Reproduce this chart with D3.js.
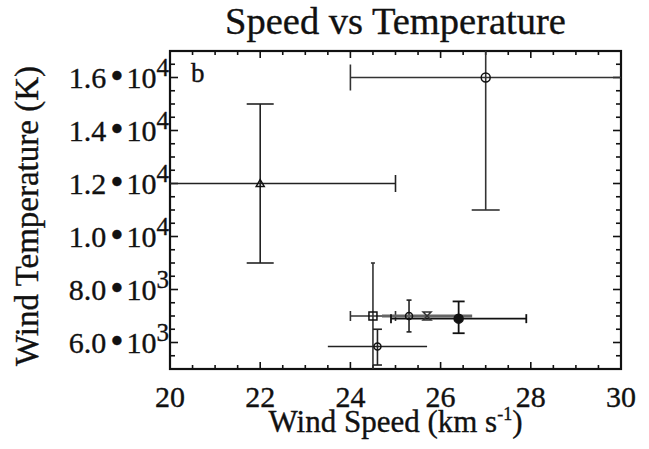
<!DOCTYPE html>
<html>
<head>
<meta charset="utf-8">
<script src="https://cdn.jsdelivr.net/npm/d3@7/dist/d3.min.js"></script>
<style>
  html, body { margin: 0; padding: 0; background: #fff; }
  svg { display: block; }
  text { font-family: "Liberation Serif", "Times New Roman", serif; fill: #111; stroke: #111; stroke-width: 0.35px; }
</style>
</head>
<body>
<script>
// ---- data ----
const speeds  = [22,    27,    24.5,  25.3,  25.7,  26.4,  24.6];
const temps   = [12000, 16000, 7000,  7000,  7000,  6900,  5850];
const speedLo = [19,    24,    24.0,  25.3,  24.7,  24.9,  23.5];
const speedHi = [25,    31,    25.0,  25.3,  26.7,  27.9,  25.7];
const tempLo  = [9000,  11000, 4500,  6400,  7000,  6350,  5150];
const tempHi  = [15000, 17500, 9000,  7600,  7000,  7550,  6500];
const symbols = ["triangle", "circle", "square", "circle", "hourglass", "filled", "circle"];
const xTicks  = [20, 22, 24, 26, 28, 30];
const yTicks  = [6000, 8000, 10000, 12000, 14000, 16000];

// ---- styles (per point) ----
const capX = [17, 26, 10, 0, 0, 9, 0];   // vertical cap height on x error ends
const capY = [27, 28, 4, 5, 0, 12, 9];  // horizontal cap width on y error ends
const barColor = ["#222", "#333", "#333", "#222", "#666", "#111", "#222"];
const barWidth = [1.6, 1.6, 1.6, 1.6, 3.2, 1.8, 1.6];

const W = 649, H = 449;
const m = {left: 170, right: 621, top: 51, bottom: 369};

const svg = d3.select("body").append("svg").attr("width", W).attr("height", H);

const x = d3.scaleLinear().domain([20, 30]).range([m.left, m.right]);
const y = d3.scaleLinear().domain([5000, 17000]).range([m.bottom, m.top]);

svg.append("defs").append("clipPath").attr("id", "clip")
  .append("rect").attr("x", m.left).attr("y", m.top)
  .attr("width", m.right - m.left).attr("height", m.bottom - m.top);

// ticks (inward on all sides)
const tg = svg.append("g").attr("stroke", "#111").attr("stroke-width", 1.6);
const xMinor = d3.range(20, 30.001, 0.5);
const yMinor = d3.range(5000, 17000.1, 500);
xMinor.forEach(v => {
  const major = Math.abs(v % 2) < 1e-6;
  const len = major ? 7 : 4;
  tg.append("line").attr("x1", x(v)).attr("x2", x(v)).attr("y1", m.bottom).attr("y2", m.bottom - len);
  tg.append("line").attr("x1", x(v)).attr("x2", x(v)).attr("y1", m.top).attr("y2", m.top + len);
});
yMinor.forEach(v => {
  const major = Math.abs(v % 2000) < 1e-6;
  const len = major ? 8 : 5;
  tg.append("line").attr("y1", y(v)).attr("y2", y(v)).attr("x1", m.left).attr("x2", m.left + len);
  tg.append("line").attr("y1", y(v)).attr("y2", y(v)).attr("x1", m.right).attr("x2", m.right - len);
});

// frame
svg.append("rect").attr("x", m.left).attr("y", m.top)
  .attr("width", m.right - m.left).attr("height", m.bottom - m.top)
  .attr("fill", "none").attr("stroke", "#111").attr("stroke-width", 2.2);

// x tick labels
svg.append("g").selectAll("text").data(xTicks).join("text")
  .attr("x", d => x(d)).attr("y", 407)
  .attr("text-anchor", "middle").attr("font-size", 30)
  .text(d => d);

// y tick labels
const yl = svg.append("g").selectAll("text").data(yTicks).join("text")
  .attr("x", 169).attr("y", d => y(d) + 10)
  .attr("text-anchor", "end").attr("font-size", 30);
yl.each(function(d) {
  const e = Math.floor(Math.log10(d));
  const mant = (d / Math.pow(10, e)).toFixed(1);
  const t = d3.select(this);
  t.append("tspan").text(mant);
  t.append("tspan").attr("dx", 4).attr("font-size", 38).attr("dy", 1).text("•");
  t.append("tspan").attr("dx", 3).attr("dy", -1).text("10");
  t.append("tspan").attr("dy", -12).attr("font-size", 25).text(e);
});

// titles
svg.append("text").attr("x", (m.left + m.right) / 2).attr("y", 34)
  .attr("text-anchor", "middle").attr("font-size", 38.5).text("Speed vs Temperature");

const xt = svg.append("text").attr("x", (m.left + m.right) / 2).attr("y", 432)
  .attr("text-anchor", "middle").attr("font-size", 31);
xt.append("tspan").text("Wind Speed (km s");
xt.append("tspan").attr("font-size", 18).attr("dy", -12).text("-1");
xt.append("tspan").attr("dy", 12).text(")");

svg.append("text")
  .attr("transform", `translate(38, ${(m.top + m.bottom) / 2 + 6}) rotate(-90)`)
  .attr("text-anchor", "middle").attr("font-size", 33).text("Wind Temperature (K)");

svg.append("text").attr("x", 191).attr("y", 82).attr("font-size", 27).text("b");

// error bars
const eb = svg.append("g").attr("clip-path", "url(#clip)");
speeds.forEach((s, i) => {
  const g = eb.append("g").attr("stroke", barColor[i]).attr("stroke-width", barWidth[i]).attr("fill", "none");
  const cx = x(s), cy = y(temps[i]);
  if (speedLo[i] !== speedHi[i]) {
    g.append("line").attr("x1", x(speedLo[i])).attr("x2", x(speedHi[i])).attr("y1", cy).attr("y2", cy);
    if (capX[i]) {
      [speedLo[i], speedHi[i]].forEach(v => g.append("line")
        .attr("x1", x(v)).attr("x2", x(v)).attr("y1", cy - capX[i] / 2).attr("y2", cy + capX[i] / 2));
    }
  }
  if (tempLo[i] !== tempHi[i]) {
    g.append("line").attr("x1", cx).attr("x2", cx).attr("y1", y(tempLo[i])).attr("y2", y(tempHi[i]));
    if (capY[i]) {
      [tempLo[i], tempHi[i]].forEach(v => g.append("line")
        .attr("y1", y(v)).attr("y2", y(v)).attr("x1", cx - capY[i] / 2).attr("x2", cx + capY[i] / 2));
    }
  }
});

// markers
const mk = svg.append("g").attr("clip-path", "url(#clip)");
speeds.forEach((s, i) => {
  const cx = x(s), cy = y(temps[i]);
  const g = mk.append("g").attr("transform", `translate(${cx},${cy})`)
    .attr("stroke", "#111").attr("stroke-width", 1.5).attr("fill", "none");
  const sym = symbols[i];
  if (sym === "circle") {
    g.append("circle").attr("r", i === 1 ? 4.5 : 3.5);
  } else if (sym === "filled") {
    g.append("circle").attr("r", 4.5).attr("fill", "#111");
  } else if (sym === "square") {
    g.append("rect").attr("x", -4).attr("y", -4).attr("width", 8).attr("height", 8);
  } else if (sym === "triangle") {
    g.append("path").attr("d", "M0,-4L4,3L-4,3Z");
  } else if (sym === "hourglass") {
    g.append("path").attr("d", "M-4,-4L4,-4L-4,4L4,4Z").attr("stroke", "#333");
  }
});
</script>
</body>
</html>
